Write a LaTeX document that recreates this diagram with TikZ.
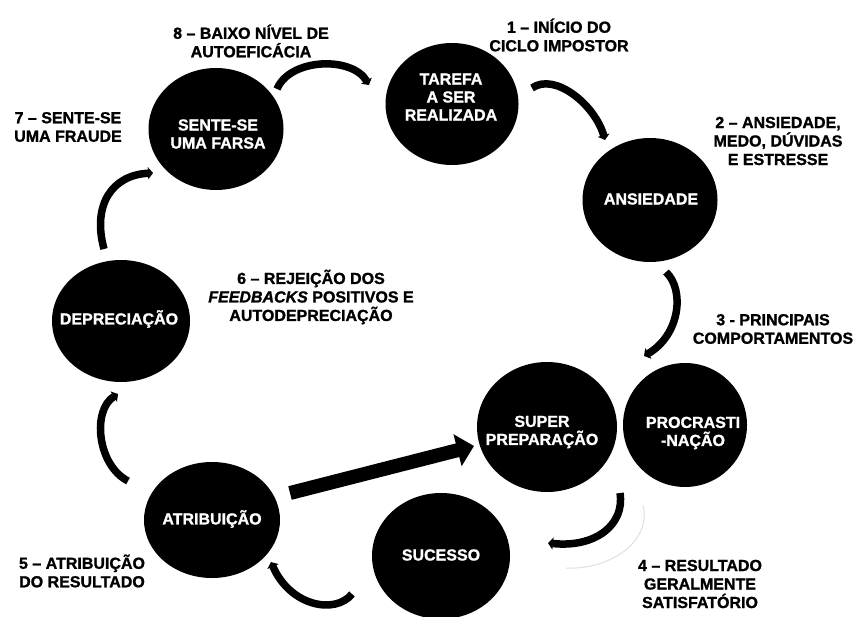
\documentclass[tikz,border=0pt]{standalone}
\usepackage{fontspec}
\setmainfont{Liberation Sans}
\newfontfamily\heavy{Liberation Sans Bold}[FakeBold=1.2,ItalicFont={Liberation Sans Bold Italic},ItalicFeatures={FakeBold=1.2}]
\usetikzlibrary{arrows.meta,shapes.geometric}
\begin{document}
\begin{tikzpicture}[x=1pt,y=-1pt,
  blob/.style={ellipse,fill=black,draw=none,inner sep=0pt},
  ctext/.style={text=white,align=center,inner sep=0pt,font=\fontsize{16}{18}\selectfont\heavy},
  lbl/.style={text=black,align=center,inner sep=0pt,font=\fontsize{16}{18.5}\selectfont\heavy},
  flow/.style={line width=7.5pt,-{Triangle[width=12pt,length=5pt]}},
  bigflow/.style={line width=14pt,-{Triangle[width=32pt,length=17pt]}},
]
\fill[white] (0,0) rectangle (858,617);
\useasboundingbox (0,0) rectangle (858,617);

% circles
\node[blob,minimum width=135pt,minimum height=122pt] (farsa) at (216,129) {};
\node[blob,minimum width=133pt,minimum height=122pt] (tarefa) at (452,104) {};
\node[blob,minimum width=135pt,minimum height=124pt] (ansiedade) at (650,200) {};
\node[blob,minimum width=138pt,minimum height=122pt] (deprec) at (121,321) {};
\node[blob,minimum width=136pt,minimum height=116pt] (atrib) at (212,520) {};
\node[blob,minimum width=138pt,minimum height=126pt] (sucesso) at (441,556) {};
\node[blob,minimum width=140pt,minimum height=130pt] (super) at (547,427) {};
\node[blob,minimum width=124pt,minimum height=124pt] (procr) at (685,425) {};

% circle texts
\node[ctext] (farsaT) at (218,134) {SENTE-SE\\UMA FARSA};
\node[ctext] (tarefaT) at (451,97) {TAREFA\\A SER\\REALIZADA};
\node[ctext] (ansiedadeT) at (651,199) {ANSIEDADE};
\node[ctext] (deprecT) at (119,319) {DEPRECIAÇÃO};
\node[ctext] (atribT) at (212,519) {ATRIBUIÇÃO};
\node[ctext] (sucessoT) at (441,555) {SUCESSO};
\node[ctext] (superT) at (542,432) {SUPER\\PREPARAÇÃO};
\node[ctext] (procrT) at (693,433) {PROCRASTI\\-NAÇÃO};

% outer labels
\node[lbl] (l8) at (251,41) {8 – BAIXO NÍVEL DE\\AUTOEFICÁCIA};
\node[lbl] (l1) at (559,35) {1 – INÍCIO DO\\CICLO IMPOSTOR};
\node[lbl] (l7) at (68,127) {7 – SENTE-SE\\UMA FRAUDE};
\node[lbl] (l2) at (778,141) {2 – ANSIEDADE,\\MEDO, DÚVIDAS\\E ESTRESSE};
\node[lbl] (l6) at (311,297) {6 – REJEIÇÃO DOS\\\textit{FEEDBACKS} POSITIVOS E\\AUTODEPRECIAÇÃO};
\node[lbl] (l3) at (773,329) {3 - PRINCIPAIS\\COMPORTAMENTOS};
\node[lbl] (l5) at (82,571) {5 – ATRIBUIÇÃO\\DO RESULTADO};
\node[lbl] (l4) at (700,584) {4 – RESULTADO\\GERALMENTE\\SATISFATÓRIO};

% connector end points
\coordinate (a7s) at (277,89);  \coordinate (a7e) at (369,85);
\coordinate (a1s) at (532,88);  \coordinate (a1e) at (605,140);
\coordinate (a2s) at (666,272); \coordinate (a2e) at (644,356);
\coordinate (a3s) at (620,493); \coordinate (a3e) at (548,543);
\coordinate (a4s) at (352,594); \coordinate (a4e) at (271,562);
\coordinate (a5s) at (128,481); \coordinate (a5e) at (118,394);
\coordinate (a6s) at (104,249); \coordinate (a6e) at (153,173);
\coordinate (bs) at (290,493);  \coordinate (be) at (474,446);
\coordinate (gs) at (643,505);  \coordinate (ge) at (566,568);

% faint ghost arc
\draw[black!12,line width=1pt] (gs) .. controls (652,540) and (612,570) .. (ge);

% cycle arrows
\draw[flow] (a7s) .. controls (290,58) and (352,56) .. (a7e);
\draw[flow] (a1s) .. controls (555,72) and (595,105) .. (a1e);
\draw[flow] (a2s) .. controls (685,290) and (680,335) .. (a2e);
\draw[flow] (a3s) .. controls (625,525) and (595,548) .. (a3e);
\draw[flow] (a4s) .. controls (335,615) and (290,606) .. (a4e);
\draw[flow] (a5s) .. controls (97,465) and (92,410) .. (a5e);
\draw[flow] (a6s) .. controls (92,205) and (112,175) .. (a6e);
\draw[bigflow] (bs) -- (be);
\end{tikzpicture}
\end{document}
